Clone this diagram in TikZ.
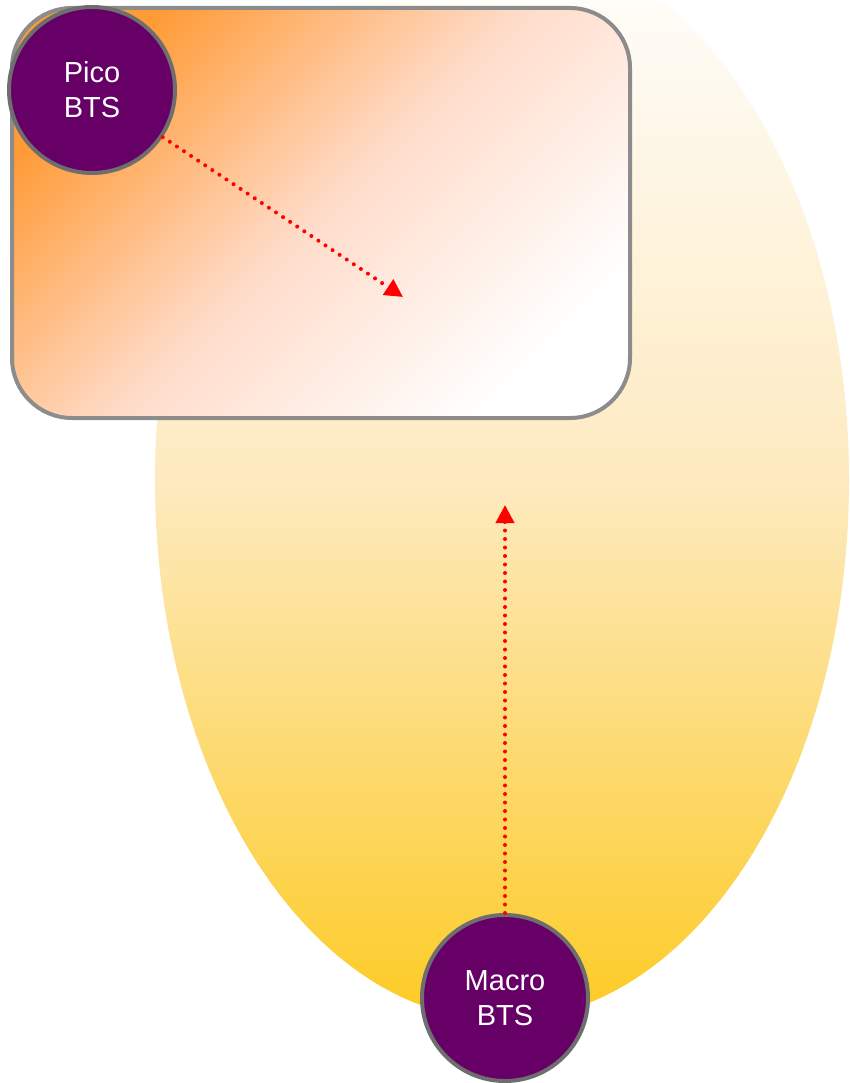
\documentclass[tikz,border=0pt]{standalone}
\usepackage{fontspec}
\setmainfont{Liberation Sans}
\usepackage{tikz}
\usetikzlibrary{arrows.meta,positioning}
\definecolor{btspurple}{RGB}{102,0,102}
\definecolor{rimgray}{RGB}{110,110,110}
\definecolor{boxgray}{RGB}{140,140,140}
\definecolor{cellorange}{RGB}{255,155,55}
\definecolor{cellpeach}{RGB}{255,220,202}
\definecolor{cellyellow}{RGB}{253,203,36}
\definecolor{cellbeige}{RGB}{253,234,192}
\tikzset{
  bts/.style={circle, fill=btspurple, draw=rimgray, line width=4pt,
    minimum size=166pt, inner sep=0pt, text=white, align=center,
    font=\fontsize{29}{35}\selectfont},
  signal/.style={red, line width=4pt, line cap=round,
    dash pattern=on 0pt off 8.5pt, -{Triangle[length=18pt,width=18pt]}}
}
\begin{document}
\begin{tikzpicture}[x=1pt,y=-1pt]
  \useasboundingbox (0,0) rectangle (850,1083);
  % macro cell
  \shade[top color=white, bottom color=cellyellow, middle color=cellbeige]
    (502,480) ellipse [x radius=347, y radius=540];
  % pico cell
  \shade[top color=cellorange, bottom color=white, middle color=cellpeach,
    shading angle=45, rounded corners=60pt] (12,8) rectangle (630,418);
  \draw[boxgray, line width=4pt, rounded corners=60pt] (12,8) rectangle (630,418);
  % stations
  \node[bts] (pico) at (92,90) {Pico\\BTS};
  \node[bts] (macro) at (505,998) {Macro\\BTS};
  % links
  \coordinate (picoTip) at (403,297);
  \coordinate (macroTip) at (505,505);
  \draw[signal] (pico) -- (picoTip);
  \draw[signal] (macro) -- (macroTip);
\end{tikzpicture}
\end{document}
